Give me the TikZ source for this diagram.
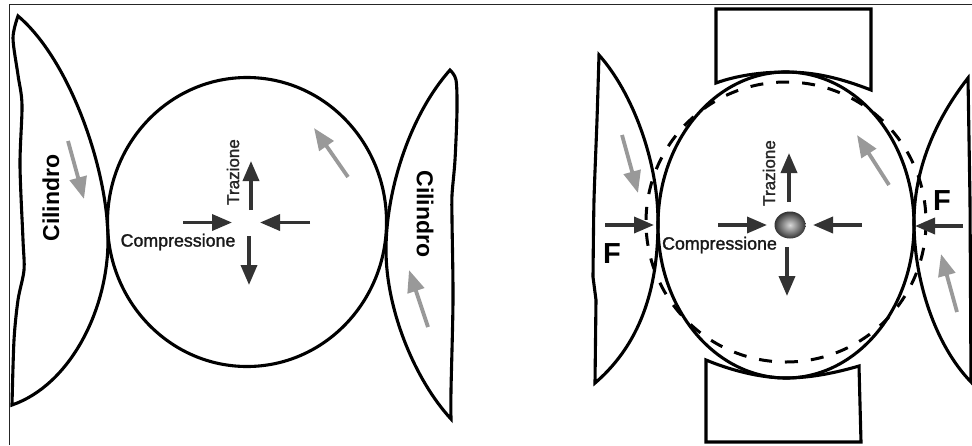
\documentclass[tikz,border=0pt]{standalone}
\usepackage{fontspec}
\setmainfont{Liberation Sans}
\newfontfamily\semibold[FakeBold=1.6]{Liberation Sans}
\usetikzlibrary{arrows.meta,shapes.geometric}
\definecolor{darkarrow}{HTML}{333333}
\definecolor{grayarrow}{HTML}{999999}
\tikzset{
  outline/.style={draw=black,line width=3.1pt,line join=miter},
  stress/.style={draw=darkarrow,line width=3.6pt,-{Triangle[length=20pt,width=16pt]}},
  motion/.style={draw=grayarrow,line width=3.8pt,-{Triangle[length=22pt,width=17pt]}},
  comp/.style={font=\semibold\fontsize{17.8}{19}\selectfont,text=black!90,inner sep=0pt},
  traz/.style={font=\semibold\fontsize{17}{18}\selectfont,text=black!85,inner sep=0pt,rotate=90},
  cil/.style={font=\bfseries\fontsize{23}{24}\selectfont,inner sep=0pt},
  force/.style={font=\bfseries\fontsize{29}{30}\selectfont,inner sep=0pt},
}
\begin{document}
\begin{tikzpicture}[x=1pt,y=-1pt]
\useasboundingbox (0,0) rectangle (972,445);
% frame
\draw[line width=1.3pt,black!85] (9.5,445) -- (9.5,4.5) -- (972,4.5);

% LEFT PANEL
\draw[outline] (247,222) ellipse [x radius=139.5,y radius=144.5];
\draw[outline] plot[smooth,tension=0.5] coordinates {(18,16) (13,38) (18,75) (22,105) (20,165) (23,240) (24,270) (18,300) (14,340) (12,405)}
  .. controls (70,385) and (108,310) .. (108,240) .. controls (108,170) and (70,60) .. (18,16) -- cycle;
\draw[outline] plot[smooth,tension=0.5] coordinates {(450,70) (456,80) (457,110) (455,160) (452,195) (452,220) (453,300) (451,390) (451,419)}
  .. controls (415,380) and (386,310) .. (386,250) .. controls (386,190) and (410,115) .. (450,70) -- cycle;

\draw[motion] (68,141) -- (84,199);
\draw[motion] (348,177) -- (314,128);
\draw[motion] (428,327) -- (409,270);
\draw[stress] (251,210) -- (251,161);
\draw[stress] (183,222.5) -- (232,222.5);
\draw[stress] (310,222.5) -- (260,222.5);
\draw[stress] (249,236) -- (249,285);

\node[traz] (tl) at (233,172) {Trazione};
\node[comp] (cl) at (178,242) {Compressione};
\node[cil,rotate=90] (cyl1) at (51,198) {Cilindro};
\node[cil,rotate=-90] (cyl2) at (425,214) {Cilindro};

% RIGHT PANEL
\draw[outline] plot[smooth,tension=0.4] coordinates {(599,55) (597,120) (594,200) (593,277)} -- (596,300) -- (595,383)
  .. controls (645,340) and (658,280) .. (658,222) .. controls (658,160) and (632,92) .. (599,55) -- cycle;
\draw[outline] (968,78) -- (970,200) -- (971,382)
  .. controls (935,345) and (914,280) .. (914,222) .. controls (914,170) and (935,120) .. (968,78) -- cycle;
\draw[outline] (716,83) -- (716,9) -- (871,9) -- (871,90)
  .. controls (840,78) and (815,72) .. (786,72) .. controls (760,72) and (735,76) .. (716,83) -- cycle;
\draw[outline] (706,360) -- (706,442) -- (861,442) -- (859,366)
  .. controls (835,373) and (810,378) .. (786,378) .. controls (760,378) and (730,370) .. (706,360) -- cycle;
\draw[black,line width=3pt,dash pattern=on 13pt off 13pt] (786,222) ellipse [x radius=140,y radius=140];
\draw[outline] (786,225) ellipse [x radius=128,y radius=153];

\draw[motion] (622,135) -- (638,193);
\draw[motion] (889,185) -- (857,135);
\draw[motion] (957,312) -- (941,254);
\draw[stress] (789,202) -- (789,153);
\draw[stress] (718,225) -- (767,225);
\draw[stress] (862,225) -- (813,225);
\draw[stress] (787,247) -- (787,296);
\draw[stress] (605,225) -- (654,225);
\draw[stress] (963,226) -- (915,226);
\node[ellipse,minimum width=31pt,minimum height=27pt,inner sep=0pt,inner color=black!15,outer color=black!80] (blob) at (790,225) {};

\node[traz] (tr) at (769,173) {Trazione};
\node[comp] (cr) at (719.5,245) {Compressione};
\node[force] (fl) at (612,254) {F};
\node[force] (fr) at (942,201) {F};
\end{tikzpicture}
\end{document}
